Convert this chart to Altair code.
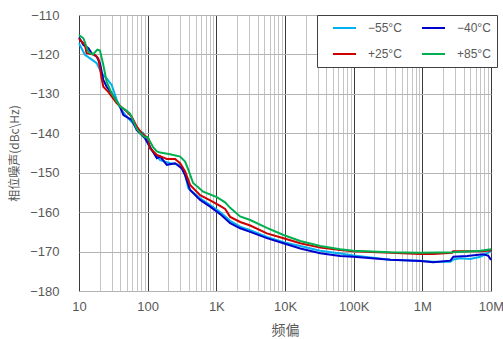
import altair as alt
import pandas as pd

# Phase noise vs. offset frequency at four temperatures
series_names = ["\u221255\u00b0C", "\u221240\u00b0C", "+25\u00b0C", "+85\u00b0C"]
series_colors = ["#00b0f0", "#0000cc", "#cc0000", "#00b050"]

freq_m55 = [10, 12.2, 14.5, 18.1, 21.4, 25.3, 30.0, 35.5, 41.9, 49.6, 61.9, 73.2, 86.5,
            108, 152, 212, 297, 351, 392, 581, 813, 1136, 1589, 2222, 3111, 5445, 9506,
            16670, 32600, 63800, 98600, 342000, 935000, 1.445e6, 2.56e6, 2.83e6, 3.58e6,
            5.01e6, 7.0e6, 9.16e6, 1.0e7]
pn_m55 = [-117.2, -120.1, -121.0, -122.2, -124.8, -126.1, -127.8, -131.6, -134.1, -135.8,
          -137.5, -139.2, -140.0, -143.8, -146.8, -147.6, -148.0, -150.6, -154.0, -156.5,
          -158.2, -160.0, -162.2, -163.7, -164.6, -166.3, -167.6, -168.6, -169.8, -170.5,
          -171.0, -172.1, -172.3, -172.6, -172.6, -172.0, -171.7, -171.9, -171.3, -170.3,
          -169.7]

freq_m40 = [10, 11.6, 13.7, 15.3, 18.1, 20.2, 22.6, 25.3, 30.0, 39.6, 44.3, 58.7, 69.4,
            91.6, 108, 136, 152, 190, 251, 314, 351, 415, 581, 813, 1136, 1589, 2222, 3111,
            5445, 9506, 16670, 32600, 63800, 98600, 342000, 935000, 1.445e6, 2.56e6,
            2.83e6, 4.49e6, 7.74e6, 9.16e6, 1.0e7]
pn_m40 = [-115.7, -117.6, -118.4, -119.7, -120.6, -122.2, -126.5, -128.2, -129.9, -133.3,
          -135.4, -136.6, -139.2, -141.3, -143.4, -146.3, -145.9, -148.0, -147.6, -148.9,
          -150.6, -154.4, -156.9, -158.6, -160.5, -162.8, -164.1, -165.0, -166.6, -167.9,
          -169.2, -170.4, -171.1, -171.3, -172.1, -172.4, -172.7, -172.3, -171.3, -171.1,
          -170.7, -171.1, -172.1]

freq_p25 = [10, 12.2, 12.9, 17.1, 19.1, 21.4, 22.6, 26.7, 35.5, 49.6, 58.7, 69.4, 82.0,
            101, 108, 136, 190, 251, 297, 351, 415, 581, 813, 1136, 1343, 1589, 2222, 3111,
            5445, 9506, 16670, 32600, 63800, 98600, 342000, 935000, 1.445e6, 2.71e6,
            2.8e6, 3.58e6, 7.0e6, 1.0e7]
pn_p25 = [-116.0, -117.6, -119.7, -120.1, -121.0, -126.1, -128.2, -129.5, -132.4, -134.5,
          -135.8, -138.3, -140.0, -141.2, -143.8, -145.5, -146.5, -146.5, -147.6, -149.7,
          -153.1, -155.7, -157.0, -158.4, -159.2, -161.2, -162.5, -163.4, -165.4, -166.6,
          -167.9, -169.0, -169.6, -169.9, -170.3, -170.6, -170.6, -170.3, -169.9, -169.9,
          -169.9, -169.7]

freq_p85 = [10, 11.6, 13.7, 16.0, 18.5, 20.2, 22.6, 25.3, 30.0, 39.6, 46.9, 55.4, 62,
            69, 77.5, 91.6, 101, 108, 120, 136, 152, 212, 297, 351, 392, 459, 643, 1016,
            1343, 1589, 2222, 3111, 5445, 9506, 16670, 32600, 63800, 98600, 342000,
            935000, 2.83e6, 7.0e6, 1.0e7]
pn_p85 = [-115.1, -115.9, -119.4, -120.0, -118.8, -119.0, -122.7, -127.0, -129.9, -133.2,
          -134.0, -135.0, -137.0, -138.8, -140.0, -141.0, -141.0, -142.1, -143.5, -144.6,
          -144.9, -145.3, -145.9, -147.2, -149.3, -152.6, -154.8, -156.2, -157.5, -158.9,
          -161.1, -162.0, -164.0, -165.8, -167.3, -168.6, -169.4, -169.8, -170.2, -170.3,
          -170.2, -169.8, -169.4]

y_ticks = [-180, -170, -160, -150, -140, -130, -120, -110]
decades = [10, 100, 1000, 10000, 100000, 1000000, 10000000]
decade_labels = ["10", "100", "1K", "10K", "100K", "1M", "10M"]

rows = []
for name, fs, vs in zip(series_names,
                        [freq_m55, freq_m40, freq_p25, freq_p85],
                        [pn_m55, pn_m40, pn_p25, pn_p85]):
    for i, (f, v) in enumerate(zip(fs, vs)):
        rows.append({"series": name, "freq": f, "pn": v, "idx": i})
df = pd.DataFrame(rows)

# grid positions: 1..9 per decade
x_grid = [m * 10 ** e for e in range(1, 7) for m in range(1, 10)] + [10 ** 7]
label_expr = " : ".join(
    f"datum.value == {d} ? '{l}'" for d, l in zip(decades, decade_labels)
) + " : ''"
decade_test = "indexof([" + ",".join(str(d) for d in decades) + "], datum.value) >= 0"

num_font = "Liberation Sans"
cjk_font = "Noto Sans CJK SC"
grey = "#595959"

chart = alt.Chart(df).mark_line(strokeWidth=2, interpolate="linear").encode(
    x=alt.X("freq:Q",
            scale=alt.Scale(type="log", domain=[10, 1e7], nice=False),
            axis=alt.Axis(values=x_grid, labelExpr=label_expr, title="频偏",
                          ticks=False, domain=False, labelPadding=9,
                          labelFont=num_font, labelFontSize=13, labelColor=grey,
                          labelFlush=False, labelOverlap=False,
                          gridColor=alt.condition(decade_test, alt.value("#3a3a3a"),
                                                  alt.value("#c4c4c4")),
                          gridWidth=1,
                          titleFont=cjk_font, titleFontSize=14, titleColor=grey,
                          titleFontWeight="normal", titleY=39, titleBaseline="middle")),
    y=alt.Y("pn:Q",
            scale=alt.Scale(domain=[-180, -110], nice=False, zero=False),
            axis=alt.Axis(values=y_ticks, ticks=False, domain=False, labelPadding=20,
                          labelFont=num_font, labelFontSize=13, labelColor=grey,
                          labelExpr="replace(format(datum.value, 'd'), '-', '\u2212')",
                          gridColor="#b4b4b4", gridWidth=1,
                          title="相位噪声(dBc\\Hz)", titleFont=cjk_font,
                          titleFontSize=12, titleColor=grey, titleFontWeight="normal",
                          titleAngle=-90, titleX=-65, titleY=138,
                          titleAlign="center", titleBaseline="middle")),
    color=alt.Color("series:N",
                    scale=alt.Scale(domain=series_names, range=series_colors),
                    legend=alt.Legend(orient="none", legendX=238, legendY=0,
                                      direction="horizontal", columns=2, title=None,
                                      symbolType="stroke", symbolSize=529,
                                      symbolStrokeWidth=2, clipHeight=14,
                                      symbolOffset=9,
                                      labelFont=num_font, labelFontSize=12,
                                      labelColor=grey, labelOffset=11,
                                      padding=6, rowPadding=12, columnPadding=10,
                                      strokeColor="#404040", fillColor="white")),
    order="idx:Q",
    detail="series:N",
).properties(
    width=412, height=276,
    autosize=alt.AutoSizeParams(type="none"),
    padding={"left": 79, "top": 15, "right": 12, "bottom": 48},
).configure_view(stroke="#222222", strokeWidth=1.5).configure(background="white")

chart.save("out.html", embed_options={"renderer": "svg", "actions": False})
